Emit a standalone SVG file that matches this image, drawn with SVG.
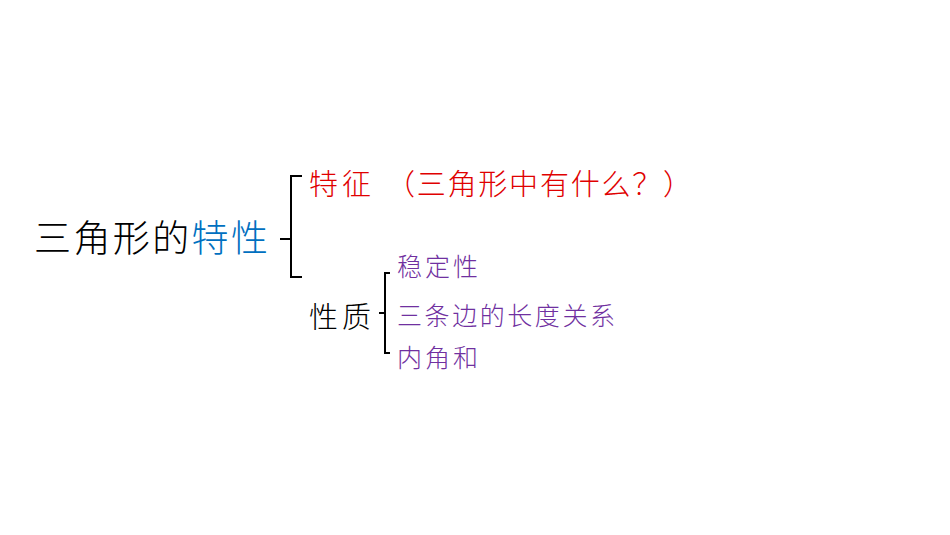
<svg xmlns="http://www.w3.org/2000/svg" width="950" height="535" viewBox="0 0 950 535">
<style>
text{font-family:"Liberation Sans","Noto Sans CJK SC",sans-serif;font-weight:300}
.p{fill:#7030a0;font-size:25px}
.b{fill:none;stroke:#000;stroke-width:2}
</style>
<rect width="950" height="535" fill="#fff"/>
<g id="root"><text x="34" y="252" font-size="37" textLength="234" lengthAdjust="spacing">三角形的<tspan fill="#0070c0">特性</tspan></text></g>
<g id="tezheng"><text x="309" y="195" font-size="29" font-weight="bold" fill="#e00000" textLength="62">特征</text><text x="386" y="195" font-size="29" fill="#e00000" textLength="306" lengthAdjust="spacing">（三角形中有什么？）</text></g>
<g id="xingzhi"><text x="309" y="328" font-size="29" textLength="62">性质</text></g>
<g id="i1"><text class="p" x="397" y="276" textLength="81">稳定性</text></g>
<g id="i2"><text class="p" x="397" y="325" textLength="218">三条边的长度关系</text></g>
<g id="i3"><text class="p" x="397" y="367" textLength="81">内角和</text></g>
<g id="connectors">
<path class="b" d="M302,176 H291 V239 H280 M291,239 V277 H302"/>
<path class="b" d="M390,273 H385 V313 H379 M385,313 V353 H390"/>
</g>
</svg>
